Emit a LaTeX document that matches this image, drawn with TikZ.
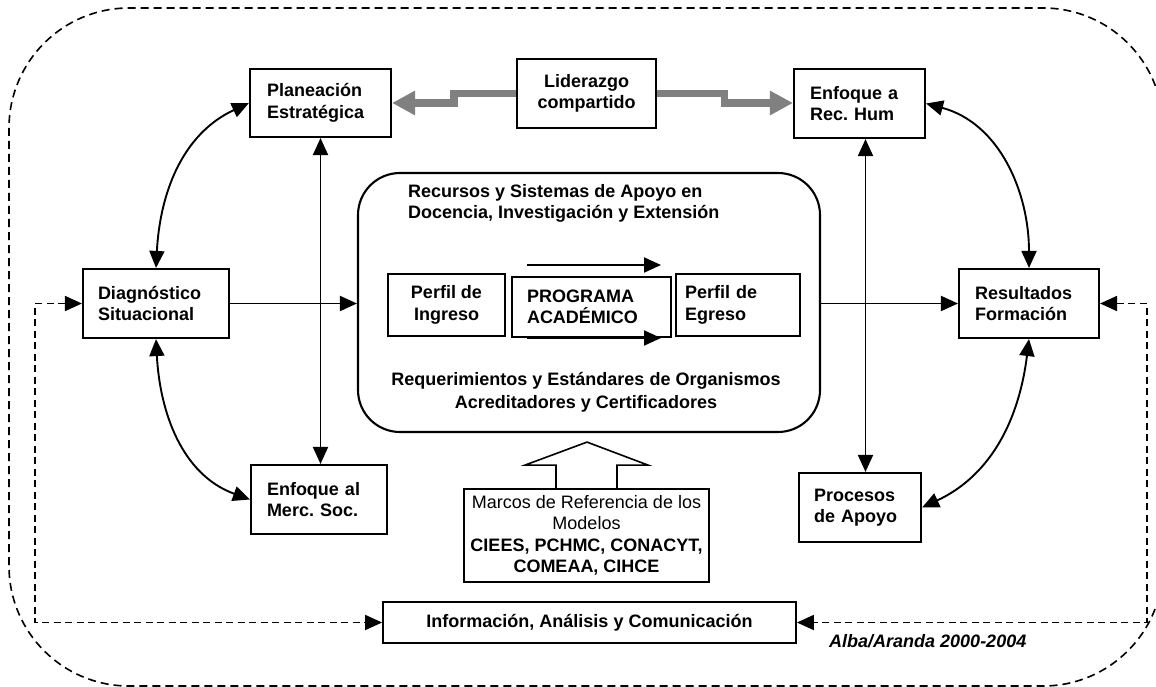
\documentclass[tikz,border=0pt]{standalone}
\usepackage{fontspec}
\setmainfont{Liberation Sans}
\usetikzlibrary{arrows.meta}
\definecolor{arrgray}{RGB}{128,128,128}
\frenchspacing
\begin{document}
\begin{tikzpicture}[x=1pt,y=-1pt,
  every node/.style={font=\fontsize{18}{21.5}\selectfont\bfseries},
  >={Triangle[length=17pt,width=15pt]},
  box/.style={draw, line width=2.1pt, inner ysep=0pt, minimum height=69pt, align=left},
  cbox/.style={draw, line width=2.1pt, inner ysep=0pt, inner xsep=0pt, align=center},
  con/.style={line width=1.9pt},
  fb/.style={line width=1.8pt, dash pattern=on 7pt off 4.5pt},
  outerline/.style={line width=1.6pt, dash pattern=on 8pt off 5pt, rounded corners=120pt},
  grayarrow/.style={draw=arrgray, line width=7.5pt, line join=miter,
    -{Triangle[length=23pt,width=23pt,fill=arrgray]}},
  lbl/.style={inner sep=0pt, align=left}
]
\useasboundingbox (0,0) rectangle (1156,687);

% outer dashed frame
\draw[outerline] (9,8) rectangle (1163,686);

% central rounded block
\node[draw, line width=2.1pt, rounded corners=42pt, minimum width=462pt, minimum height=259pt, inner sep=0pt] (cent) at (589,302.5) {};
\node[lbl, anchor=west] (rtop) at (408,203.5) {Recursos y Sistemas de Apoyo en\\Docencia, Investigación y Extensión};
\node[lbl, align=center, font=\fontsize{18}{23}\selectfont\bfseries] (rbot) at (586,392) {Requerimientos y Estándares de Organismos\\Acreditadores y Certificadores};

% boxes
\node[box, minimum height=68pt, text width=107pt, inner xsep=17pt] (plan) at (320.5,103) {Planeación\\Estratégica};
\node[cbox, minimum width=139pt, minimum height=69pt] (lid) at (586.5,93.5) {Liderazgo\\compartido};
\node[box, text width=99pt, inner xsep=16pt] (rech) at (859.5,103.5) {Enfoque a\\Rec. Hum};
\node[box, text width=116pt, inner xsep=15pt] (diag) at (156,303.5) {Diagnóstico\\Situacional};
\node[box, text width=108pt, inner xsep=16pt] (res) at (1029,303.5) {Resultados\\Formación};
\node[box, text width=104pt, inner xsep=16pt] (merc) at (319,499.5) {Enfoque al\\Merc. Soc.};
\node[box, text width=92pt, inner xsep=15pt] (proc) at (860,507.5) {Procesos\\de Apoyo};
\node[cbox, minimum width=117pt, minimum height=62pt] (ing) at (446.5,305) {Perfil de\\Ingreso};
\node[box, minimum height=60pt, text width=129pt, inner xsep=15pt] (prog) at (591.5,307) {PROGRAMA\\ACADÉMICO};
\node[box, minimum height=62pt, text width=106pt, inner xsep=9pt] (egr) at (738,305) {Perfil de\\Egreso};
\node[cbox, minimum width=245pt, minimum height=93pt, line width=1.8pt, inner xsep=1pt] (marcos) at (586.5,535.5)
  {\mdseries Marcos de Referencia de los\\\mdseries Modelos\\\bfseries CIEES, PCHMC, CONACYT,\\\bfseries COMEAA, CIHCE};
\node[cbox, minimum width=413pt, minimum height=41pt, line width=1.8pt] (info) at (589.5,622.5) {Información, Análisis y Comunicación};
\node[anchor=base west, inner sep=0pt, font=\fontsize{18}{21}\selectfont\bfseries\itshape] (alba) at (829,647) {Alba/Aranda 2000-2004};

% gray arrows from leadership
\coordinate (g1) at (454,103);
\coordinate (g2) at (724.5,103);
\draw[grayarrow] (lid.west) -- (lid.west -| g1) -- (g1) -- (g1 -| plan.east);
\draw[grayarrow] (lid.east) -- (lid.east -| g2) -- (g2) -- (g2 -| rech.west);

% main flow arrows
\draw[con, ->] (diag.east) -- (diag.east -| cent.west);
\draw[con, ->] (cent.east |- res.west) -- (res.west);

% small arrows across program
\coordinate (p1) at (527,265);
\coordinate (p2) at (661,265);
\coordinate (p3) at (527,338);
\coordinate (p4) at (661,338);
\draw[con, ->] (p1) -- (p2);
\draw[con, ->] (p3) -- (p4);

% curved double arrows
\draw[con, <->] (diag.north) to[out=87,in=205] (plan.west);
\draw[con, <->] (diag.south) to[out=-87,in=160] (merc.west);
\draw[con, <->] (rech.east) to[out=-15,in=90] (res.north);
\draw[con, <->] (res.south) to[out=-97,in=25] (proc.east);

% vertical double arrows
\draw[con, <->] (plan.south) -- (plan.south |- merc.north);
\draw[con, <->] ([xshift=6pt]rech.south) -- ([xshift=6pt]rech.south |- proc.north);

% feedback dashed
\coordinate (lfb) at (35,450);
\coordinate (rfb) at (1147,450);
\draw[fb, <->] (diag.west) -| (lfb) |- (info.west);
\draw[fb, <->] (res.east) -| (rfb) |- (info.east);

% big hollow up arrow
\draw[line width=1.6pt, line join=miter] ([xshift=-30.5pt]marcos.north) -- ++(0,-23) -- ++(-31,0) -- ++(62,-23) -- ++(61,23) -- ++(-31,0) -- ++(0,23);
\end{tikzpicture}
\end{document}
